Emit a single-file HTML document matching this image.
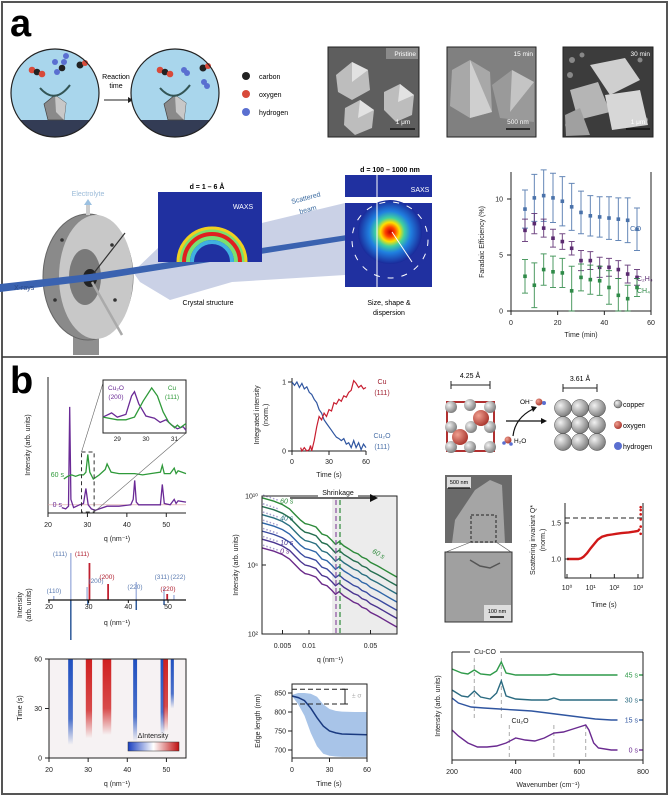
<!DOCTYPE html>
<html><head><meta charset="utf-8"><title>Figure</title>
<style>
html,body{margin:0;padding:0;background:#fff}
svg{display:block;font-family:"Liberation Sans",sans-serif}
text{font-family:"Liberation Sans",sans-serif}
</style></head>
<body>
<svg id="fig" xmlns="http://www.w3.org/2000/svg" width="669" height="796" viewBox="0 0 669 796">
<defs>
<clipPath id="c1"><circle cx="55" cy="93" r="44"/></clipPath>
<clipPath id="c2"><circle cx="175" cy="93" r="44"/></clipPath>
<radialGradient id="gsph" cx="35%" cy="35%" r="70%"><stop offset="0" stop-color="#f2f2f2"/><stop offset="1" stop-color="#7a7a7a"/></radialGradient>
<radialGradient id="rsph" cx="35%" cy="35%" r="70%"><stop offset="0" stop-color="#f0a090"/><stop offset="1" stop-color="#a8342c"/></radialGradient>
<radialGradient id="saxsg" cx="50%" cy="50%" r="50%"><stop offset="0" stop-color="#c00000"/><stop offset="0.15" stop-color="#ff4000"/><stop offset="0.3" stop-color="#ffe000"/><stop offset="0.45" stop-color="#40d0a0"/><stop offset="0.65" stop-color="#2080e0"/><stop offset="1" stop-color="#1a2a9a"/></radialGradient>
<linearGradient id="cbar" x1="0" x2="1"><stop offset="0" stop-color="#1a40c0"/><stop offset="0.5" stop-color="#ffffff"/><stop offset="1" stop-color="#c01010"/></linearGradient>
<linearGradient id="fadeBlue" x1="0" y1="1" x2="0" y2="0"><stop offset="0" stop-color="#2050c0" stop-opacity="0"/><stop offset="0.3" stop-color="#2050c0" stop-opacity="0.8"/><stop offset="1" stop-color="#2050c0" stop-opacity="1"/></linearGradient>
<linearGradient id="fadeRed" x1="0" y1="1" x2="0" y2="0"><stop offset="0" stop-color="#d02020" stop-opacity="0"/><stop offset="0.35" stop-color="#d02020" stop-opacity="0.8"/><stop offset="1" stop-color="#d02020" stop-opacity="1"/></linearGradient>
</defs>

<!-- frame -->
<rect x="2" y="2" width="665" height="792" fill="none" stroke="#555" stroke-width="2"/>
<line x1="2" y1="357" x2="667" y2="357" stroke="#333" stroke-width="1.5"/>
<text x="10" y="36" font-family="Liberation Serif" font-weight="bold" font-size="38" fill="#000">a</text>
<text x="10" y="393" font-family="Liberation Serif" font-weight="bold" font-size="38" fill="#000">b</text>

<!-- panel a: reaction circles -->
<g>
<circle cx="55" cy="93" r="44" fill="#a9d6ec"/>
<rect x="0" y="120" width="120" height="30" fill="#333c55" clip-path="url(#c1)"/>
<polygon points="48,120 44,104 55,95 66,103 64,120" fill="#8a8a8a" stroke="#444" stroke-width="0.7"/>
<polygon points="55,95 66,103 64,120 56,112" fill="#c8c8c8"/>
<path d="M40,88 Q55,105 70,85" fill="none" stroke="#355" stroke-width="2"/>
<circle cx="32" cy="70" r="3.3" fill="#d84a3a"/><circle cx="37" cy="72" r="3.3" fill="#222"/><circle cx="42" cy="74" r="3.3" fill="#d84a3a"/>
<circle cx="62" cy="68" r="3.3" fill="#222"/><circle cx="64" cy="62" r="3" fill="#5a6fd0"/><circle cx="57" cy="72" r="3" fill="#5a6fd0"/><circle cx="66" cy="56" r="3" fill="#5a6fd0"/>
<circle cx="80" cy="65" r="3.5" fill="#222"/><circle cx="85" cy="63" r="3" fill="#d84a3a"/>
<circle cx="55" cy="62" r="3" fill="#5a6fd0"/>
<circle cx="55" cy="93" r="44" fill="none" stroke="#222" stroke-width="1.2"/>
</g>
<text x="116" y="79" font-size="7" text-anchor="middle">Reaction</text>
<text x="116" y="88" font-size="7" text-anchor="middle">time</text>
<line x1="104" y1="100" x2="128" y2="100" stroke="#222" stroke-width="1"/>
<polygon points="128,97 133,100 128,103" fill="#222"/>
<g>
<circle cx="175" cy="93" r="44" fill="#a9d6ec"/>
<rect x="120" y="120" width="120" height="30" fill="#333c55" clip-path="url(#c2)"/>
<polygon points="168,120 164,104 175,95 186,103 184,120" fill="#8a8a8a" stroke="#444" stroke-width="0.7"/>
<polygon points="175,95 186,103 184,120 176,112" fill="#c8c8c8"/>
<path d="M160,88 Q175,105 190,85" fill="none" stroke="#355" stroke-width="2"/>
<circle cx="160" cy="70" r="3.3" fill="#d84a3a"/><circle cx="165" cy="72" r="3.3" fill="#222"/><circle cx="170" cy="74" r="3.3" fill="#d84a3a"/>
<circle cx="184" cy="70" r="3" fill="#5a6fd0"/><circle cx="187" cy="73" r="3" fill="#5a6fd0"/>
<circle cx="203" cy="68" r="3.5" fill="#222"/><circle cx="208" cy="66" r="3" fill="#d84a3a"/>
<circle cx="204" cy="82" r="3" fill="#5a6fd0"/><circle cx="207" cy="86" r="3" fill="#5a6fd0"/>
<circle cx="175" cy="93" r="44" fill="none" stroke="#222" stroke-width="1.2"/>
</g>
<g font-size="7">
<circle cx="246" cy="76" r="4" fill="#222"/><text x="259" y="79">carbon</text>
<circle cx="246" cy="94" r="4" fill="#d84a3a"/><text x="259" y="97">oxygen</text>
<circle cx="246" cy="112" r="4" fill="#5a6fd0"/><text x="259" y="115">hydrogen</text>
</g>

<!-- SEM images panel a -->
<g>
<rect x="328" y="47" width="91" height="90" fill="#5e5e5e" stroke="#222"/>
<polygon points="336,75 352,62 368,70 370,90 352,100 338,92" fill="#bdbdbd"/><polygon points="352,62 368,70 352,82" fill="#e2e2e2"/>
<polygon points="384,92 400,84 414,95 412,115 396,122 384,110" fill="#bdbdbd"/><polygon points="400,84 414,95 398,102" fill="#e2e2e2"/>
<polygon points="345,108 360,100 374,110 372,128 355,135 344,125" fill="#bdbdbd"/><polygon points="360,100 374,110 358,118" fill="#e2e2e2"/>
<rect x="386" y="48" width="32" height="11" fill="#8a8a8a"/><text x="416" y="56" font-size="6.5" text-anchor="end" fill="#fff">Pristine</text>
<text x="403" y="124" font-size="6.5" text-anchor="middle" fill="#fff">1 μm</text><line x1="390" y1="129" x2="415" y2="129" stroke="#111" stroke-width="1.5"/>
</g>
<g>
<rect x="447" y="47" width="89" height="90" fill="#808080" stroke="#222"/>
<polygon points="452,70 470,60 490,72 492,112 470,118 450,106" fill="#a8a8a8"/><polygon points="470,60 492,112 470,118" fill="#cfcfcf"/>
<polygon points="492,85 512,70 534,82 534,122 500,118" fill="#9a9a9a"/><polygon points="512,70 534,82 510,112" fill="#c4c4c4"/>
<text x="533" y="56" font-size="6.5" text-anchor="end" fill="#fff">15 min</text>
<text x="518" y="124" font-size="6.5" text-anchor="middle" fill="#fff">500 nm</text><line x1="506" y1="129" x2="530" y2="129" stroke="#111" stroke-width="1.5"/>
</g>
<g>
<rect x="563" y="47" width="90" height="90" fill="#3c3c3c" stroke="#222"/>
<circle cx="572" cy="60" r="3" fill="#888"/><circle cx="582" cy="55" r="2.5" fill="#888"/><circle cx="570" cy="75" r="3" fill="#888"/><circle cx="645" cy="120" r="3" fill="#888"/><circle cx="568" cy="125" r="3" fill="#888"/><circle cx="640" cy="60" r="2.5" fill="#888"/>
<polygon points="590,65 625,58 640,80 610,95" fill="#cfcfcf"/><polygon points="570,90 598,82 610,112 578,120" fill="#b5b5b5"/><polygon points="605,95 640,90 648,125 612,130" fill="#d7d7d7"/><polygon points="565,115 580,108 590,135 566,136" fill="#a0a0a0"/>
<text x="650" y="56" font-size="6.5" text-anchor="end" fill="#fff">30 min</text>
<text x="638" y="124" font-size="6.5" text-anchor="middle" fill="#fff">1 μm</text><line x1="626" y1="129" x2="650" y2="129" stroke="#111" stroke-width="1.5"/>
</g>

<!-- setup -->
<g>
<polygon points="133,272 158,248 345,203 345,275 232,282 170,300 140,282" fill="#b8c2de" opacity="0.75"/>
<rect x="73" y="325" width="26" height="30" fill="#8f8f8f"/>
<ellipse cx="88" cy="277" rx="45" ry="63" fill="#8a8a8a" stroke="#666"/>
<ellipse cx="96" cy="277" rx="37" ry="62" fill="#c8c8c8"/>
<ellipse cx="85" cy="277" rx="16" ry="28" fill="#7a7a7a"/>
<ellipse cx="90" cy="278" rx="7" ry="9" fill="#222"/>
<line x1="90" y1="278" x2="125" y2="233" stroke="#333" stroke-width="1.2"/>
<line x1="92" y1="282" x2="122" y2="335" stroke="#aaa" stroke-width="2.5"/>
<line x1="88" y1="205" x2="88" y2="215" stroke="#ccc" stroke-width="4"/>
<polygon points="84,205 88,199 92,205" fill="#9bc0e0"/>
<circle cx="62" cy="240" r="1.8" fill="#333"/><circle cx="55" cy="300" r="1.8" fill="#333"/><circle cx="112" cy="245" r="1.8" fill="#333"/><circle cx="115" cy="300" r="1.8" fill="#333"/>
<polygon points="0,284 90,274 393,228 393,233 90,281 0,292" fill="#3a62b0"/>
</g>
<g>
<rect x="158" y="192" width="104" height="70" fill="#2030a0"/>
<path d="M184,262 A28,28 0 0 1 240,262" fill="none" stroke="#7ae070" stroke-width="12"/>
<path d="M184,262 A28,28 0 0 1 240,262" fill="none" stroke="#e02020" stroke-width="4"/>
<path d="M178,262 A34,34 0 0 1 246,262" fill="none" stroke="#f0d020" stroke-width="3"/>
<path d="M192,262 A20,20 0 0 1 232,262" fill="none" stroke="#40b0e0" stroke-width="4"/>
<text x="243" y="209" font-size="7" fill="#fff" text-anchor="middle">WAXS</text>
</g>
<g>
<rect x="345" y="175" width="87" height="22" fill="#2030a0"/>
<rect x="345" y="203" width="87" height="84" fill="#2030a0"/>
<circle cx="390" cy="232" r="32" fill="url(#saxsg)"/>
<line x1="377" y1="175" x2="377" y2="287" stroke="#fff" stroke-width="1"/>
<circle cx="390" cy="240" r="38" fill="none" stroke="#fff" stroke-width="1" stroke-dasharray="6,8"/>
<line x1="392" y1="232" x2="412" y2="262" stroke="#fff" stroke-width="1"/>
<text x="420" y="192" font-size="7" fill="#fff" text-anchor="middle">SAXS</text>
</g>
<g font-size="7">
<text x="88" y="196" text-anchor="middle" fill="#9bbbd8">Electrolyte</text>
<text x="14" y="290" fill="#2a4a8a">X-rays</text>
<text x="207" y="189" text-anchor="middle" font-weight="bold">d = 1 – 6 Å</text>
<text x="390" y="172" text-anchor="middle" font-weight="bold">d = 100 – 1000 nm</text>
<text x="292" y="204" fill="#3a6aa0" transform="rotate(-15 292 204)">Scattered</text>
<text x="300" y="214" fill="#3a6aa0" transform="rotate(-15 300 214)">beam</text>
<text x="208" y="305" text-anchor="middle">Crystal structure</text>
<text x="389" y="305" text-anchor="middle">Size, shape &amp;</text>
<text x="389" y="315" text-anchor="middle">dispersion</text>
</g>

<!-- Cu2O crystal structure -->
<g>
<line x1="451" y1="385" x2="490" y2="385" stroke="#222"/><line x1="451" y1="381" x2="451" y2="389" stroke="#222"/><line x1="490" y1="381" x2="490" y2="389" stroke="#222"/>
<text x="470" y="378" font-size="7" text-anchor="middle">4.25 Å</text>
<rect x="447" y="402" width="47" height="49" fill="none" stroke="#b03030" stroke-width="2"/>
<circle cx="451" cy="407" r="6" fill="url(#gsph)"/><circle cx="470" cy="405" r="6" fill="url(#gsph)"/><circle cx="490" cy="407" r="6" fill="url(#gsph)"/>
<circle cx="451" cy="427" r="6" fill="url(#gsph)"/><circle cx="471" cy="427" r="6" fill="url(#gsph)"/><circle cx="490" cy="427" r="6" fill="url(#gsph)"/>
<circle cx="451" cy="447" r="6" fill="url(#gsph)"/><circle cx="470" cy="447" r="6" fill="url(#gsph)"/><circle cx="490" cy="447" r="6" fill="url(#gsph)"/>
<circle cx="481" cy="418" r="8" fill="url(#rsph)"/><circle cx="460" cy="437" r="8" fill="url(#rsph)"/>
</g>
<g>
<line x1="506" y1="421" x2="542" y2="421" stroke="#111" stroke-width="1.2"/><polygon points="541,418 547,421 541,424" fill="#111"/>
<path d="M513,436 Q515,418 533,409" fill="none" stroke="#111" stroke-width="1.2"/><polygon points="531,406 537,407 533,412" fill="#111"/>
<text x="520" y="404" font-size="6.5">OH⁻</text><circle cx="539" cy="402" r="3.5" fill="url(#rsph)"/><circle cx="544" cy="403" r="2" fill="#5a6fd0"/>
<circle cx="508" cy="440" r="3.5" fill="url(#rsph)"/><circle cx="504" cy="443" r="1.8" fill="#5a6fd0"/><circle cx="511" cy="444" r="1.8" fill="#5a6fd0"/>
<text x="514" y="443" font-size="6.5">H₂O</text>
</g>
<g>
<line x1="563" y1="388" x2="597" y2="388" stroke="#222"/><line x1="563" y1="384" x2="563" y2="392" stroke="#222"/><line x1="597" y1="384" x2="597" y2="392" stroke="#222"/>
<text x="580" y="381" font-size="7" text-anchor="middle">3.61 Å</text>
<circle cx="563" cy="408" r="8.5" fill="url(#gsph)" stroke="#444" stroke-width="0.5"/><circle cx="580" cy="408" r="8.5" fill="url(#gsph)" stroke="#444" stroke-width="0.5"/><circle cx="597" cy="408" r="8.5" fill="url(#gsph)" stroke="#444" stroke-width="0.5"/>
<circle cx="563" cy="425" r="8.5" fill="url(#gsph)" stroke="#444" stroke-width="0.5"/><circle cx="580" cy="425" r="8.5" fill="url(#gsph)" stroke="#444" stroke-width="0.5"/><circle cx="597" cy="425" r="8.5" fill="url(#gsph)" stroke="#444" stroke-width="0.5"/>
<circle cx="563" cy="442" r="8.5" fill="url(#gsph)" stroke="#444" stroke-width="0.5"/><circle cx="580" cy="442" r="8.5" fill="url(#gsph)" stroke="#444" stroke-width="0.5"/><circle cx="597" cy="442" r="8.5" fill="url(#gsph)" stroke="#444" stroke-width="0.5"/>
</g>
<g font-size="7">
<circle cx="618" cy="404" r="4" fill="url(#gsph)" stroke="#444" stroke-width="0.5"/><text x="623" y="407">copper</text>
<circle cx="618" cy="425" r="4" fill="url(#rsph)"/><text x="623" y="428">oxygen</text>
<circle cx="618" cy="446" r="4" fill="#5a6fd0"/><text x="623" y="449">hydrogen</text>
</g>

<!-- SEM b -->
<g>
<rect x="445" y="475" width="67" height="68" fill="#6a6a6a"/>
<polygon points="452,543 455,520 475,490 490,480 502,485 505,543" fill="#a5a5a5"/>
<rect x="471" y="515" width="25" height="27" fill="none" stroke="#222" stroke-dasharray="3,2"/>
<rect x="447" y="477" width="24" height="11" fill="#ddd"/><text x="459" y="484" font-size="5.5" text-anchor="middle">500 nm</text>
<line x1="448" y1="488" x2="470" y2="488" stroke="#111" stroke-width="1.2"/>
</g>
<line x1="471" y1="542" x2="446" y2="552" stroke="#555" stroke-width="0.6"/><line x1="496" y1="542" x2="511" y2="552" stroke="#555" stroke-width="0.6"/>
<g>
<rect x="445" y="552" width="67" height="70" fill="#a0a0a0" stroke="#333"/>
<path d="M470,560 L480,566 L490,568 L500,563" fill="none" stroke="#555" stroke-width="1.5"/>
<rect x="484" y="605" width="27" height="16" fill="#ddd"/><text x="497" y="613" font-size="5.5" text-anchor="middle">100 nm</text>
<line x1="490" y1="617" x2="504" y2="617" stroke="#111" stroke-width="1.5"/>
</g>

<g id="charts"></g>
</svg>
<script>
const NS='http://www.w3.org/2000/svg';
const root=document.getElementById('charts');

// ---------- Faradaic efficiency data ----------
const feTime=[6,10,14,18,22,26,30,34,38,42,46,50,54];
const feCO=[9.1,10.1,10.3,10.1,9.8,9.3,8.8,8.5,8.4,8.3,8.2,8.1,7.3];
const feCOerr=[1.7,2.1,2.3,2.2,2.2,2.1,1.9,1.8,1.8,1.9,1.9,2.0,1.9];
const feC2H4=[7.2,7.8,7.4,6.5,6.2,5.6,4.5,4.5,3.9,3.9,3.7,3.3,3.0];
const feC2H4err=[1.0,0.9,0.8,0.8,0.7,0.6,0.9,0.8,0.9,0.8,0.8,0.8,0.7];
const feCH4=[3.1,2.3,3.7,3.5,3.4,1.8,3.0,2.8,2.7,2.1,1.4,1.1,2.1];
const feCH4err=[1.5,2.0,1.4,1.4,1.3,2.2,1.2,1.3,1.3,1.5,1.5,1.2,0.8];
const feXTicks=[0,20,40,60];
const feYTicks=[0,5,10];

// ---------- XRD data ----------
const xrdQ0=[23.5,24.5,25.2,25.5,25.8,26.5,28,29,29.6,30.2,31,32,33,35,38,41,41.6,42,42.4,43,46,48.5,49,49.5,51,52,52.5,53,55];
const xrdI0=[4,3,5,78,10,4,6,7,18,6,3,2,3,5,5,6,10,24,8,6,6,6,21,7,6,10,7,9,8];
const xrdQ60=[24,25,26,27,28,29,29.6,30.1,30.6,31.5,33,34.5,35,36,38,41,42,44,46,48.5,49,49.5,51,52,52.5,53,55];
const xrdI60=[25,27,28,27,28,28,30,43,30,25,28,32,36,30,29,29,29,28,29,30,35,29,29,33,29,31,29];
const insetQp=[28.5,28.8,29.0,29.3,29.5,29.6,29.75,30.0,30.3,30.5,30.7,30.9,31.1,31.3,31.4];
const insetIp=[30,38,30,35,70,78,55,32,28,20,25,15,8,12,5];
const insetQg=[28.5,29.0,29.3,29.6,29.9,30.2,30.4,30.6,30.8,31.0,31.1,31.2,31.4];
const insetIg=[30,25,25,30,60,85,70,40,20,10,15,10,18];
const xrdXTicks=[20,30,40,50];

// ---------- Reference sticks ----------
const cu2oRefQ=[21.2,25.5,29.6,42.0,49.0,51.5];
const cu2oRefH=[4,47,13,18,12,5];
const cu2oMeasQ=[25.5,29.8,42.0,49.0];
const cu2oMeasH=[40,5,10,5];
const cuRefQ=[30.2,34.9,49.8];
const cuRefH=[37,16,6];

// ---------- Heatmap streaks ----------
const streakQ=[25.5,30.2,34.8,42.0,49.0,49.8,51.5];
const streakSign=[-1,1,1,-1,-1,1,-1];
const streakStart=[8,12,14,10,14,16,30];
const streakW=[1.2,1.6,2.2,1.0,1.0,1.2,0.8];

// ---------- Integrated intensity ----------
const iiTimeO=[0,2,4,6,8,10,12,14,16,18,20,22,24,26,28,30,32,34,36,38,40,42,44,46,48,50,52,54,56,58,60];
const iiCu2O=[1,0.95,1,0.92,0.98,0.9,0.93,0.85,0.82,0.75,0.7,0.6,0.55,0.45,0.4,0.35,0.3,0.25,0.2,0.18,0.15,0.18,0.1,0.12,0.05,0.15,0.05,0.12,0.02,0.1,0.05];
const iiTimeC=[7,8,10,12,14,15,16,18,20,22,24,26,28,30,32,34,36,38,40,42,44,46,48,50,52,54,56,58,60];
const iiCu=[0.05,0,0.05,0,0.02,0.08,0,0.15,0.35,0.5,0.45,0.55,0.5,0.6,0.58,0.7,0.68,0.75,0.72,0.8,0.78,0.85,0.88,1.02,0.98,0.92,0.95,0.9,0.92];

// ---------- SAXS ----------
const saxsQ=[0.0029,0.004,0.005,0.006,0.007,0.008,0.009,0.01,0.012,0.014,0.016,0.018,0.02,0.022,0.025,0.028,0.032,0.036,0.04,0.045,0.05,0.06,0.07,0.085,0.1];
const saxsLog0=[7.0,6.8,6.6,6.35,6.0,5.7,5.5,5.45,5.3,4.9,4.8,4.55,4.3,4.45,4.2,4.05,3.85,3.75,3.55,3.45,3.25,3.05,2.85,2.6,2.4];
const saxsOffsets=[0,0.5,0.97,1.45,1.92,2.4,2.9];
const saxsLabels=['0 s','10 s','','','40 s','','60 s'];
const saxsXTicks=[0.005,0.01,0.05];
const saxsYTicks=[2,6,10];

// ---------- Edge length ----------
const edgeT=[0,5,10,15,20,25,30,35,40,50,60];
const edgeMean=[842,838,830,810,785,763,750,745,742,741,740];
const edgeLow=[842,820,790,745,710,690,685,683,682,682,682];
const edgeHigh=[845,850,850,848,840,820,808,803,801,800,800];
const edgeYTicks=[700,750,800,850];
const edgeXTicks=[0,30,60];

// ---------- Scattering invariant ----------
const invT=[1,2,3,4,5,7,10,15,20,30,50,80,120,200,400,700,1000,1200];
const invQ=[1.0,1.0,1.0,1.01,1.03,1.08,1.15,1.22,1.27,1.31,1.33,1.34,1.35,1.36,1.37,1.38,1.39,1.42];
const invDotsT=[1300,1300,1300,1300,1300,1300];
const invDotsQ=[1.35,1.45,1.55,1.62,1.68,1.72];
const invYTicks=[1.0,1.5];
const invXTicks=[0,1,2,3];

// ---------- Raman ----------
const ramanW45=[200,230,250,270,290,320,340,355,370,400,450,500,520,540,600,650,700,720];
const ramanV45=[91,87,86,90,86,85,89,98,87,85,85,85,86,85,85,85,85,85];
const ramanW30=[200,230,250,270,290,320,340,355,370,400,450,500,520,540,600,650,700,720];
const ramanV30=[70,64,63,69,63,61,67,79,64,61,60,60,62,60,60,60,60,60];
const ramanW15=[200,220,260,300,350,400,450,500,550,600,650,700,720];
const ramanV15=[62,57,53,52,51,50,49,47,45,43,41,40,40];
const ramanW0=[200,220,250,280,310,340,370,400,430,460,490,520,550,580,600,620,630,645,660,700,720];
const ramanV0=[30,24,17,13,13,14,17,22,20,19,22,27,28,31,33,35,30,17,12,10,10];
const ramanLabels=['45 s','30 s','15 s','0 s'];
const ramanXTicks=[200,400,600,800];

function mk(tag,attrs,parent){const e=document.createElementNS(NS,tag);for(const k in attrs)e.setAttribute(k,attrs[k]);(parent||root).appendChild(e);return e;}
function lin(d0,d1,r0,r1){return v=>r0+(v-d0)*(r1-r0)/(d1-d0);}
function logs(d0,d1,r0,r1){return v=>r0+(Math.log10(v)-Math.log10(d0))*(r1-r0)/(Math.log10(d1)-Math.log10(d0));}
function txt(x,y,s,size,anchor,fill,parent){const t=mk('text',{x:x,y:y,'font-size':size||7,'text-anchor':anchor||'middle',fill:fill||'#222'},parent);t.textContent=s;return t;}
function pathFrom(xs,ys,sx,sy){return xs.map((v,i)=>(i?'L':'M')+sx(v).toFixed(1)+','+sy(ys[i]).toFixed(1)).join('');}

// ===== Faradaic efficiency chart =====
(function(){
 const g=mk('g',{});
 
 
 const sx=lin(0,60,511,651), sy=lin(0,10,311,199);
 const fr=mk('path',{d:'M511,172 L511,311 L651,311 L651,172',fill:'none',stroke:'#222','stroke-width':1},g);
 
 
 feXTicks.forEach(t=>{const l=mk('line',{x1:sx(t),x2:sx(t),y1:311,y2:315,stroke:'#222'},g);
  const tt=txt(sx(t),325,String(t),7,'middle','#222',g);});
 feYTicks.forEach(t=>{const l=mk('line',{x1:507,x2:511,y1:sy(t),y2:sy(t),stroke:'#222'},g);
  const tt=txt(503,sy(t)+2.5,String(t),7,'end','#222',g);});
 const xl=txt(581,337,'Time (min)',7,'middle','#222',g);
 const yl=txt(484,242,'Faradaic Efficiency (%)',7,'middle','#222',g);yl.setAttribute('transform','rotate(-90 484 242)');
 const series=[[feCO,feCOerr,'#4a72aa','co'],[feC2H4,feC2H4err,'#5a2a70','c2h4'],[feCH4,feCH4err,'#2f8a48','ch4']];
 series.forEach(s=>{
  feTime.forEach((t,i)=>{
   const x=sx(t),y=sy(s[0][i]),y1=sy(Math.max(0,s[0][i]-s[1][i])),y2=sy(s[0][i]+s[1][i]);
   const e=mk('path',{d:`M${x},${y1}L${x},${y2}M${x-3},${y1}L${x+3},${y1}M${x-3},${y2}L${x+3},${y2}`,stroke:s[2],'stroke-width':1,fill:'none',opacity:0.85},g);
   
   
   const p=mk('rect',{x:x-1.8,y:y-1.8,width:3.6,height:3.6,fill:s[2]},g);
   
   
  });
 });
 const l1=txt(630,231,'CO',7.5,'start','#4a72aa',g);
 const l2=txt(637,281,'C₂H₄',7,'start','#5a2a70',g);
 const l3=txt(637,293,'CH₄',7,'start','#2f8a48',g);
})();

// ===== XRD chart =====
(function(){
 const g=mk('g',{});
 
 
 const sx=lin(20,55,48,186), sy=lin(0,100,513,377);
 const fr=mk('path',{d:'M48,377 L48,513 L186,513',fill:'none',stroke:'#222'},g);
 xrdXTicks.forEach(t=>{const l=mk('line',{x1:sx(t),x2:sx(t),y1:513,y2:517,stroke:'#222'},g);
  const tt=txt(sx(t),527,String(t),7,'middle','#222',g);});
 const xl=txt(117,541,'q (nm⁻¹)',7,'middle','#222',g);
 const yl=txt(30,445,'Intensity (arb. units)',7,'middle','#222',g);yl.setAttribute('transform','rotate(-90 30 445)');
 const b0=mk('line',{x1:48,x2:186,y1:sy(6),y2:sy(6),stroke:'#d8a0a0','stroke-width':0.6},g);
 const p0=mk('path',{d:pathFrom(xrdQ0,xrdI0,sx,sy),fill:'none',stroke:'#6a2a96','stroke-width':1.3},g);
 const p60=mk('path',{d:pathFrom(xrdQ60,xrdI60,sx,sy),fill:'none',stroke:'#2f9a3a','stroke-width':1.3},g);
 const t0=txt(62,sy(6)+2,'0 s',7,'end','#6a2a96',g);
 const t60=txt(64,sy(28)+2,'60 s',7,'end','#2f9a3a',g);
 const box=mk('rect',{x:sx(28.5),y:452,width:sx(31.7)-sx(28.5),height:60,fill:'none',stroke:'#333','stroke-dasharray':'4,3'},g);
 const c1=mk('line',{x1:sx(28.5),y1:452,x2:103,y2:383,stroke:'#666','stroke-width':0.6},g);
 const c2=mk('line',{x1:sx(31.7),y1:512,x2:186,y2:433,stroke:'#666','stroke-width':0.6},g);
 // inset
 const ix=lin(28.5,31.4,103,186), iy=lin(0,100,433,380);
 const ib=mk('rect',{x:103,y:380,width:83,height:53,fill:'#fff',stroke:'#222'},g);
 const ip=mk('path',{d:pathFrom(insetQp,insetIp,ix,iy),fill:'none',stroke:'#6a2a96','stroke-width':1.3},g);
 const ig=mk('path',{d:pathFrom(insetQg,insetIg,ix,iy),fill:'none',stroke:'#2f9a3a','stroke-width':1.3},g);
 [29,30,31].forEach(t=>{const tt=txt(ix(t),441,String(t),6.5,'middle','#222',g);});
 const a=txt(116,390,'Cu₂O',6.5,'middle','#6a2a96',g);
 const a2=txt(116,399,'(200)',6.5,'middle','#6a2a96',g);
 const b=txt(172,390,'Cu',6.5,'middle','#2f9a3a',g);
 const b2=txt(172,399,'(111)',6.5,'middle','#2f9a3a',g);
})();

// ===== reference stick chart =====
(function(){
 const g=mk('g',{});
 
 
 const sx=lin(20,50,49,168), y0=600;
 cu2oRefQ.forEach((q,i)=>{const l=mk('line',{x1:sx(q),x2:sx(q),y1:y0,y2:y0-cu2oRefH[i],stroke:'#a8b8e0','stroke-width':1.5},g);});
 cu2oMeasQ.forEach((q,i)=>{const l=mk('line',{x1:sx(q),x2:sx(q),y1:y0,y2:y0+cu2oMeasH[i],stroke:'#2f5a9a','stroke-width':1.5},g);});
 cuRefQ.forEach((q,i)=>{const l=mk('line',{x1:sx(q),x2:sx(q),y1:y0,y2:y0-cuRefH[i],stroke:'#c02030','stroke-width':1.8},g);});
 const ax=mk('line',{x1:48,x2:186,y1:y0,y2:y0,stroke:'#111','stroke-width':1.2},g);
 [20,30,40,50].forEach(t=>{const l=mk('line',{x1:sx(t),x2:sx(t),y1:y0,y2:y0+3,stroke:'#111'},g);
  const tt=txt(sx(t),y0+9,String(t),7,'middle','#222',g);});
 const xl=txt(117,625,'q (nm⁻¹)',7,'middle','#222',g);
 const yl=txt(22,605,'Intensity',7,'middle','#222',g);yl.setAttribute('transform','rotate(-90 22 605)');
 const yl2=txt(31,605,'(arb. units)',7,'middle','#222',g);yl2.setAttribute('transform','rotate(-90 31 605)');
 const labs=[[60,556,'(111)','#5a7ab0'],[82,556,'(111)','#b02030'],[96,583,'(200)','#5a7ab0'],[107,579,'(200)','#b02030'],[54,593,'(110)','#5a7ab0'],[135,589,'(220)','#5a7ab0'],[162,579,'(311)','#5a7ab0'],[178,579,'(222)','#5a7ab0'],[168,591,'(220)','#b02030']];
 labs.forEach(l=>{const t=txt(l[0],l[1],l[2],6.5,'middle',l[3],g);});
})();

// ===== heatmap =====
(function(){
 const g=mk('g',{});
 
 
 const sx=lin(20,55,49,186), sy=lin(0,60,758,659);
 const bg=mk('rect',{x:49,y:659,width:137,height:99,fill:'#f6f2f3'},g);
 streakQ.forEach((q,i)=>{const w=sx(q+streakW[i]/2)-sx(q-streakW[i]/2);const r=mk('rect',{x:sx(q)-w/2,y:sy(60),width:w,height:sy(streakStart[i])-sy(60),fill:streakSign[i]>0?'url(#fadeRed)':'url(#fadeBlue)'},g);
  });
 const fr=mk('rect',{x:49,y:659,width:137,height:99,fill:'none',stroke:'#222'},g);
 [20,30,40,50].forEach(t=>{const l=mk('line',{x1:sx(t),x2:sx(t),y1:758,y2:762,stroke:'#222'},g);
  const tt=txt(sx(t),772,String(t),7,'middle','#222',g);});
 [0,30,60].forEach(t=>{const l=mk('line',{x1:45,x2:49,y1:sy(t),y2:sy(t),stroke:'#222'},g);
  const tt=txt(42,sy(t)+2.5,String(t),7,'end','#222',g);});
 const xl=txt(117,786,'q (nm⁻¹)',7,'middle','#222',g);
 const yl=txt(22,708,'Time (s)',7,'middle','#222',g);yl.setAttribute('transform','rotate(-90 22 708)');
 const cb=mk('rect',{x:128,y:742,width:51,height:9,fill:'url(#cbar)',stroke:'#333','stroke-width':0.5},g);
 const ct=txt(153,738,'ΔIntensity',7,'middle','#222',g);
})();

// ===== integrated intensity =====
(function(){
 const g=mk('g',{});
 
 
 const sx=lin(0,60,292,366), sy=lin(0,1,451,382);
 const fr=mk('path',{d:'M292,378 L292,451 L366,451',fill:'none',stroke:'#222'},g);
 [0,30,60].forEach(t=>{const l=mk('line',{x1:sx(t),x2:sx(t),y1:451,y2:455,stroke:'#222'},g);
  const tt=txt(sx(t),464,String(t),7,'middle','#222',g);});
 [0,1].forEach(t=>{const l=mk('line',{x1:288,x2:292,y1:sy(t),y2:sy(t),stroke:'#222'},g);
  const tt=txt(286,sy(t)+2.5,String(t),7,'end','#222',g);});
 const xl=txt(329,477,'Time (s)',7,'middle','#222',g);
 const yl=txt(259,415,'Integrated intensity',7,'middle','#222',g);yl.setAttribute('transform','rotate(-90 259 415)');
 const yl2=txt(268,415,'(norm.)',7,'middle','#222',g);yl2.setAttribute('transform','rotate(-90 268 415)');
 const pb=mk('path',{d:pathFrom(iiTimeO,iiCu2O,sx,sy),fill:'none',stroke:'#2f55a0','stroke-width':1.2},g);
 const pr=mk('path',{d:pathFrom(iiTimeC,iiCu,sx,sy),fill:'none',stroke:'#c81e30','stroke-width':1.2},g);
 [[382,384,'Cu','#a02030'],[382,395,'(111)','#a02030'],[382,438,'Cu₂O','#4a70a8'],[382,449,'(111)','#4a70a8']].forEach(l=>{const t=txt(l[0],l[1],l[2],7,'middle',l[3],g);});
})();

// ===== SAXS =====
(function(){
 const g=mk('g',{});
 
 
 const sx=logs(0.01,0.1,309,397), sy=lin(2,10,634,496);
 const sh=mk('rect',{x:sx(0.0183),y:496,width:397-sx(0.0183),height:138,fill:'#ececec'},g);
 const cols=['#6a2a8a','#4a3490','#3a4aa0','#2f66a8','#2a6f80','#256e50','#2d8a3a'];
 saxsOffsets.forEach((o,k)=>{
  const p=mk('path',{d:pathFrom(saxsQ,saxsLog0.map(v=>v+o),sx,sy),fill:'none',stroke:cols[k],'stroke-width':1.4},g);
  
  
  const d=mk('line',{x1:sx(0.003),x2:sx(0.0045),y1:sy(saxsLog0[0]+o+0.15),y2:sy(saxsLog0[1]+o+0.05),stroke:'#a8a0d0','stroke-width':1.5,'stroke-dasharray':'1.5,2'},g);
  
  
  if(saxsLabels[k]){const t=txt(sx(0.0047),sy(saxsLog0[2]+o)-1,saxsLabels[k],7,'start',cols[k],g);t.setAttribute('font-style','italic');}
 });
 const t60=txt(sx(0.06),sy(saxsLog0[21]+2.9)-10,'60 s',7,'middle','#2d8a3a',g);t60.setAttribute('font-style','italic');t60.setAttribute('transform',`rotate(30 ${sx(0.06)} ${sy(saxsLog0[21]+2.9)-10})`);
 const dp=mk('line',{x1:336,x2:336,y1:500,y2:634,stroke:'#8a50a0','stroke-dasharray':'5,3','stroke-width':1.2},g);
 const dg=mk('line',{x1:340,x2:340,y1:500,y2:634,stroke:'#2d8a3a','stroke-dasharray':'5,3','stroke-width':1.2},g);
 const fr=mk('rect',{x:262,y:496,width:135,height:138,fill:'none',stroke:'#222'},g);
 const ar=mk('line',{x1:290,x2:372,y1:498,y2:498,stroke:'#111','stroke-width':1.2},g);
 const ah=mk('polygon',{points:'370,494 378,498 370,502',fill:'#111'},g);
 const st=mk('rect',{x:318,y:488,width:40,height:9,fill:'#fff'},g);
 const s=txt(338,495,'Shrinkage',7,'middle','#111',g);
 saxsXTicks.forEach(t=>{const l=mk('line',{x1:sx(t),x2:sx(t),y1:634,y2:630,stroke:'#222'},g);
  const tt=txt(sx(t),648,String(t),7,'middle','#222',g);});
 saxsYTicks.forEach(t=>{const l=mk('line',{x1:262,x2:266,y1:sy(t),y2:sy(t),stroke:'#222'},g);
  const tt=txt(258,sy(t)+2.5,'10'+(t===10?'¹⁰':t===6?'⁶':'²'),7,'end','#222',g);});
 const xl=txt(330,662,'q (nm⁻¹)',7,'middle','#222',g);
 const yl=txt(238,565,'Intensity (arb. units)',7,'middle','#222',g);yl.setAttribute('transform','rotate(-90 238 565)');
})();

// ===== edge length =====
(function(){
 const g=mk('g',{});
 
 
 const sx=lin(0,60,292,367), sy=lin(700,850,750,693);
 const band=edgeT.map((t,i)=>sx(t)+','+sy(edgeHigh[i])).concat(edgeT.slice().reverse().map((t,i)=>sx(t)+','+sy(edgeLow[edgeT.length-1-i])));
 const b=mk('polygon',{points:band.join(' '),fill:'#a8c4e8'},g);
 const m=mk('path',{d:pathFrom(edgeT,edgeMean,sx,sy),fill:'none',stroke:'#1a3a80','stroke-width':1.5},g);
 const d1=mk('line',{x1:292,x2:345,y1:sy(860),y2:sy(860),stroke:'#222','stroke-dasharray':'5,3'},g);
 const d2=mk('line',{x1:292,x2:345,y1:sy(821),y2:sy(821),stroke:'#222','stroke-dasharray':'5,3'},g);
 const eb=mk('path',{d:`M342,${sy(860)}L348,${sy(860)}M345,${sy(860)}L345,${sy(821)}M342,${sy(821)}L348,${sy(821)}`,stroke:'#222',fill:'none'},g);
 const sg=txt(352,sy(838),'± σ',6.5,'start','#aaa',g);
 const fr=mk('rect',{x:292,y:684,width:75,height:74,fill:'none',stroke:'#222'},g);
 edgeYTicks.forEach(t=>{const l=mk('line',{x1:288,x2:292,y1:sy(t),y2:sy(t),stroke:'#222'},g);
  const tt=txt(286,sy(t)+2.5,String(t),7,'end','#222',g);});
 edgeXTicks.forEach(t=>{const l=mk('line',{x1:sx(t),x2:sx(t),y1:758,y2:762,stroke:'#222'},g);
  const tt=txt(sx(t),772,String(t),7,'middle','#222',g);});
 const xl=txt(329,786,'Time (s)',7,'middle','#222',g);
 const yl=txt(260,721,'Edge length (nm)',7,'middle','#222',g);yl.setAttribute('transform','rotate(-90 260 721)');
})();

// ===== scattering invariant =====
(function(){
 const g=mk('g',{});
 
 
 const sx=logs(1,1000,567,638), sy=lin(1.0,1.5,559,523);
 const fr=mk('path',{d:'M565,503 L565,578 L643,578 L643,503',fill:'none',stroke:'#222'},g);
 const dl=mk('line',{x1:565,x2:643,y1:sy(1.57),y2:sy(1.57),stroke:'#222','stroke-dasharray':'5,3'},g);
 const p=mk('path',{d:pathFrom(invT,invQ,sx,sy),fill:'none',stroke:'#d01818','stroke-width':2.4},g);
 invDotsT.forEach((t,i)=>{const c=mk('circle',{cx:sx(t),cy:sy(invDotsQ[i]),r:1.3,fill:'#d01818'},g);});
 invYTicks.forEach(t=>{const l=mk('line',{x1:565,x2:569,y1:sy(t),y2:sy(t),stroke:'#222'},g);
  const tt=txt(561,sy(t)+2.5,t.toFixed(1),7,'end','#222',g);});
 const sup=['⁰','¹','²','³'];
 invXTicks.forEach(t=>{const x=sx(Math.pow(10,t));const l=mk('line',{x1:x,x2:x,y1:578,y2:574,stroke:'#222'},g);
  const tt=txt(x,590,'10'+sup[t],7,'middle','#222',g);});
 const xl=txt(604,607,'Time (s)',7,'middle','#222',g);
 const yl=txt(535,540,'Scattering invariant Q*',7,'middle','#222',g);yl.setAttribute('transform','rotate(-90 535 540)');
 const yl2=txt(545,540,'(norm.)',7,'middle','#222',g);yl2.setAttribute('transform','rotate(-90 545 540)');
})();

// ===== Raman =====
(function(){
 const g=mk('g',{});
 
 
 const sx=lin(200,800,452,643), sy=lin(0,108,760,652);
 [270,355].forEach(w=>{const l=mk('line',{x1:sx(w),x2:sx(w),y1:658,y2:720,stroke:'#aaa','stroke-dasharray':'4,3'},g);});
 [380,520,620].forEach(w=>{const l=mk('line',{x1:sx(w),x2:sx(w),y1:725,y2:760,stroke:'#aaa','stroke-dasharray':'4,3'},g);});
 const tr=[[ramanW45,ramanV45,'#2f9a4a',85],[ramanW30,ramanV30,'#2a6a80',60],[ramanW15,ramanV15,'#2f55a0',40],[ramanW0,ramanV0,'#6a2a90',10]];
 tr.forEach((s,k)=>{const p=mk('path',{d:pathFrom(s[0],s[1],sx,sy),fill:'none',stroke:s[2],'stroke-width':1.4},g);
  const t=txt(638,sy(s[3])+2.5,ramanLabels[k],7,'end',s[2],g);
  const st=mk('line',{x1:639,x2:643,y1:sy(s[3]),y2:sy(s[3]),stroke:s[2],'stroke-width':1.4},g);});
 const fr=mk('path',{d:'M452,652 L452,760 L643,760 L643,652',fill:'none',stroke:'#222'},g);
 const tl=mk('path',{d:'M452,652 L470,652 M500,652 L643,652',fill:'none',stroke:'#222'},g);
 const cc=txt(485,654,'Cu-CO',7,'middle','#222',g);
 const co=txt(520,723,'Cu₂O',7,'middle','#222',g);
 ramanXTicks.forEach(t=>{const l=mk('line',{x1:sx(t),x2:sx(t),y1:760,y2:764,stroke:'#222'},g);
  const tt=txt(sx(t),774,String(t),7,'middle','#222',g);});
 const xl=txt(548,787,'Wavenumber (cm⁻¹)',7,'middle','#222',g);
 const yl=txt(440,706,'Intensity (arb. units)',7,'middle','#222',g);yl.setAttribute('transform','rotate(-90 440 706)');
})();
</script>
</body></html>
